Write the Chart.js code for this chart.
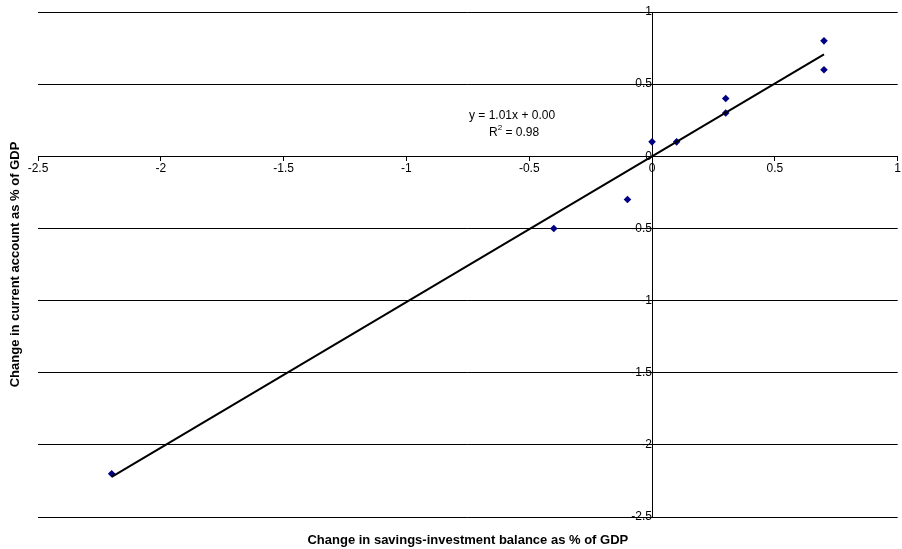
<!DOCTYPE html>
<html>
<head>
<meta charset="utf-8">
<script src="https://cdn.jsdelivr.net/npm/chart.js@4/dist/chart.umd.min.js"></script>
<style>
  html, body { margin: 0; padding: 0; background: #ffffff; }
  #wrap { width: 902px; height: 549px; }
</style>
</head>
<body>
<div id="wrap"><canvas id="c" width="902" height="549"></canvas></div>
<script>
// Change in savings-investment balance (x) vs change in current account (y), % of GDP
const savingsInvestment = [0.7, 0.7, 0.3, 0.3, 0.0, 0.1, -0.1, -0.4, -2.2];
const currentAccount    = [0.8, 0.6, 0.4, 0.3, 0.1, 0.1, -0.3, -0.5, -2.2];

// Fitted linear trend as printed on the chart
const trendSlope = 1.01;
const trendIntercept = 0.00;
const trendR2 = 0.98;

const axisTicks = [-2.5, -2, -1.5, -1, -0.5, 0, 0.5, 1];

const xTitle = 'Change in savings-investment balance as % of GDP';
const yTitle = 'Change in current account as % of GDP';

const points = savingsInvestment.map((x, i) => ({ x: x, y: currentAccount[i] }));
const xMin = Math.min(...savingsInvestment);
const xMax = Math.max(...savingsInvestment);
const trendPoints = [xMin, xMax].map(x => ({ x: x, y: trendSlope * x + trendIntercept }));

const fmt = v => String(Number(v.toFixed(2)));
const FONT = '"Liberation Sans", Arial, sans-serif';

// Equation label drawn next to the trend line
const equationLabel = {
  id: 'equationLabel',
  afterDatasetsDraw(chart) {
    const { ctx, scales } = chart;
    const cx = scales.x.getPixelForValue(-0.57);
    const cy = scales.y.getPixelForValue(0.28);
    ctx.save();
    ctx.fillStyle = '#000000';
    ctx.font = '12px ' + FONT;
    ctx.textBaseline = 'middle';
    ctx.textAlign = 'center';
    const sign = trendIntercept < 0 ? '-' : '+';
    ctx.fillText('y = ' + trendSlope.toFixed(2) + 'x ' + sign + ' ' + Math.abs(trendIntercept).toFixed(2), cx, cy);

    // R² with a raised small 2
    const y2 = cy + 17;
    const partR = 'R';
    const partRest = ' = ' + trendR2.toFixed(2);
    ctx.textAlign = 'left';
    const wR = ctx.measureText(partR).width;
    const wRest = ctx.measureText(partRest).width;
    ctx.font = '8px ' + FONT;
    const wSup = ctx.measureText('2').width;
    const total = wR + wSup + wRest;
    let x0 = cx + 2 - total / 2;
    ctx.font = '12px ' + FONT;
    ctx.fillText(partR, x0, y2);
    ctx.font = '8px ' + FONT;
    ctx.fillText('2', x0 + wR, y2 - 5);
    ctx.font = '12px ' + FONT;
    ctx.fillText(partRest, x0 + wR + wSup, y2);
    ctx.restore();
  }
};

new Chart(document.getElementById('c'), {
  type: 'scatter',
  data: {
    datasets: [
      {
        label: 'Observations',
        data: points,
        pointStyle: 'rectRot',
        pointRadius: 3.8,
        pointHoverRadius: 3.8,
        backgroundColor: '#000080',
        borderColor: '#000080',
        borderWidth: 0,
        order: 2
      },
      {
        label: 'Linear trend',
        type: 'line',
        data: trendPoints,
        borderColor: '#000000',
        borderWidth: 2,
        pointRadius: 0,
        fill: false,
        order: 1
      }
    ]
  },
  options: {
    responsive: false,
    animation: false,
    events: [],
    layout: {
      autoPadding: false,
      padding: { top: 12, right: 4, left: 0, bottom: 0 }
    },
    plugins: {
      legend: { display: false },
      tooltip: { enabled: false },
      title: {
        display: true,
        text: xTitle,
        position: 'bottom',
        fullSize: false,
        color: '#000000',
        font: { family: FONT, size: 13, weight: 'bold' },
        padding: { top: 15.2, bottom: 1.2 }
      },
      subtitle: {
        display: true,
        text: yTitle,
        position: 'left',
        fullSize: false,
        color: '#000000',
        font: { family: FONT, size: 13, weight: 'bold' },
        padding: { top: 7.2, bottom: 15.2 }
      }
    },
    scales: {
      x: {
        type: 'linear',
        position: { y: 0 },
        min: -2.5,
        max: 1,
        afterBuildTicks: scale => { scale.ticks = axisTicks.map(v => ({ value: v })); },
        grid: {
          drawOnChartArea: false,
          drawTicks: true,
          tickLength: 4,
          color: '#000000'
        },
        border: { display: true, color: '#000000', width: 1 },
        ticks: {
          color: '#000000',
          font: { family: FONT, size: 12 },
          padding: 1,
          maxRotation: 0,
          autoSkip: false,
          callback: v => fmt(v)
        }
      },
      y: {
        type: 'linear',
        position: { x: 0 },
        min: -2.5,
        max: 1,
        afterBuildTicks: scale => { scale.ticks = axisTicks.map(v => ({ value: v })); },
        grid: {
          drawOnChartArea: true,
          drawTicks: true,
          tickLength: 4,
          color: '#000000',
          lineWidth: 1
        },
        border: { display: true, color: '#000000', width: 1 },
        ticks: {
          color: '#000000',
          font: { family: FONT, size: 12 },
          padding: 0,
          autoSkip: false,
          callback: v => fmt(v)
        }
      }
    }
  },
  plugins: [equationLabel]
});
</script>
</body>
</html>
